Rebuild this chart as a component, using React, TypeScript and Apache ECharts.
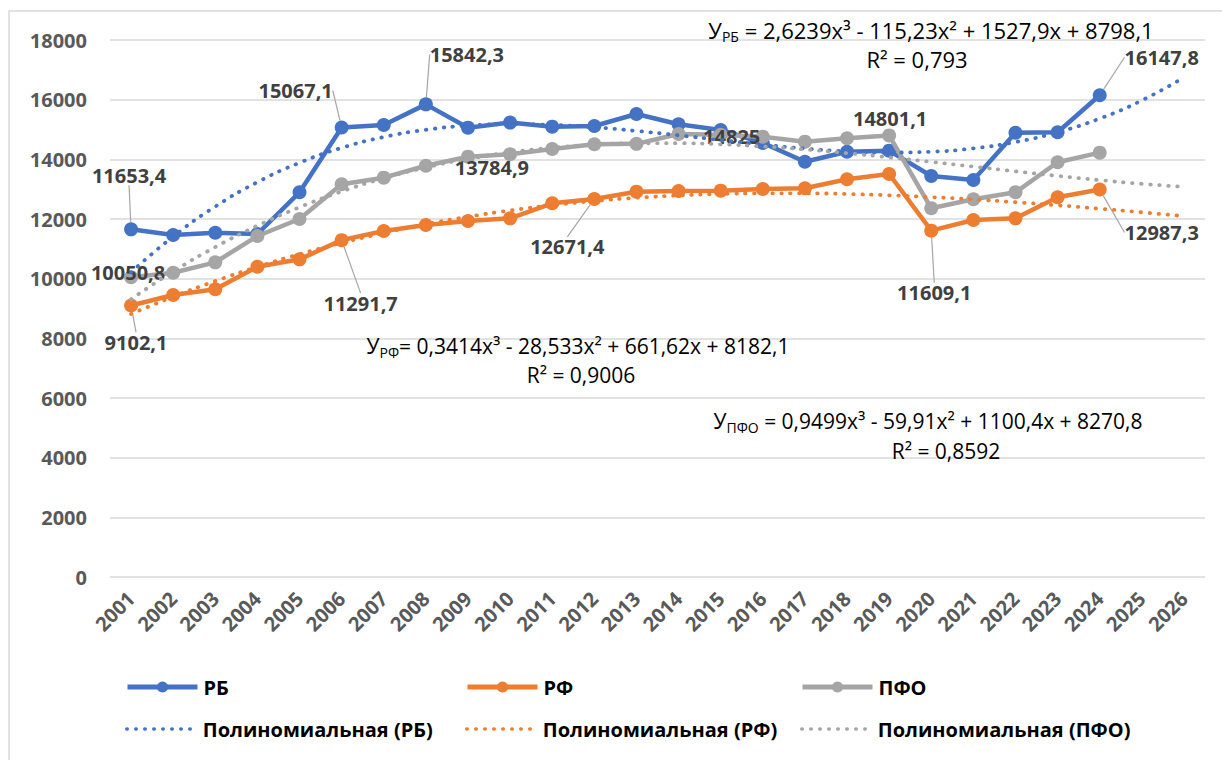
import React, { useEffect, useRef } from 'react';
import * as echarts from 'echarts';

const years = ['2001','2002','2003','2004','2005','2006','2007','2008','2009','2010','2011','2012','2013','2014','2015','2016','2017','2018','2019','2020','2021','2022','2023','2024','2025','2026'];

const rbValues = [11653.4, 11464, 11541, 11497, 12895, 15067.1, 15150, 15842.3, 15061, 15232, 15095, 15117, 15520, 15174, 14983, 14550, 13921, 14256, 14290, 13441, 13307, 14893, 14906, 16147.8];
const rfValues = [9102.1, 9453, 9644, 10401, 10648, 11291.7, 11598, 11799, 11933, 12023, 12526, 12671.4, 12916, 12938, 12950, 13006, 13030, 13331, 13508, 11609.1, 11967, 12023, 12727, 12987.3];
const pfoValues = [10050.8, 10200, 10548, 11430, 11999, 13163, 13385, 13784.9, 14089, 14169, 14346, 14504, 14520, 14849, 14825, 14760, 14592, 14705, 14801.1, 12359, 12660, 12895, 13901, 14223];

const rbTrend = [10213, 11414, 12416, 13234, 13885, 14384, 14747, 14990, 15128, 15178, 15155, 15074, 14952, 14804, 14646, 14493, 14362, 14268, 14228, 14255, 14368, 14580, 14908, 15368, 15975, 16746];
const rfTrend = [8816, 9394, 9919, 10394, 10820, 11198, 11532, 11824, 12074, 12286, 12462, 12603, 12711, 12789, 12839, 12862, 12861, 12838, 12794, 12733, 12655, 12563, 12459, 12346, 12224, 12096];
const pfoTrend = [9312, 10240, 11059, 11775, 12394, 12922, 13364, 13726, 14014, 14234, 14390, 14490, 14538, 14541, 14503, 14431, 14331, 14207, 14066, 13914, 13756, 13598, 13445, 13304, 13179, 13078];

const yTicks = { min: 0, max: 18000, interval: 2000 };

// label placement (offset from point, leader line on/off)
const rbLabels: Record<number, [number, number, boolean]> = { 0: [-2, -54, true], 5: [-46, -37, true], 7: [41, -50, true], 23: [62, -38, true] };
const rfLabels: Record<number, [number, number, boolean]> = { 0: [5, 37, true], 5: [19, 63, true], 11: [-27, 48, true], 19: [3, 62, true], 23: [62, 43, true] };
const pfoLabels: Record<number, [number, number, boolean]> = { 0: [-3, -5, false], 7: [66, 2, false], 14: [11, 2, false], 18: [1, -17, false] };

const FONT = "'Open Sans', 'Noto Sans', sans-serif";
const EQ_NARROW = "'Liberation Sans Narrow', 'Open Sans', sans-serif";
const BLUE = '#4472C4';
const ORANGE = '#ED7D31';
const GRAY = '#A5A5A5';

function mainSeries(name: string, values: number[], color: string, spots: Record<number, [number, number, boolean]>, z: number) {
  return {
    type: 'line',
    name,
    z,
    data: values.map((v, i) => (spots[i] ? { value: v, label: { show: true }, labelLine: { show: spots[i][2] } } : v)),
    symbol: 'circle',
    symbolSize: 14,
    itemStyle: { color },
    lineStyle: { color, width: 4.5 },
    label: {
      show: false,
      position: 'inside',
      formatter: (p: any) => String(p.value).replace('.', ','),
      fontSize: 20,
      fontWeight: 'bold',
      color: '#404040',
      fontFamily: FONT,
    },
    labelLine: { show: false, lineStyle: { color: '#A6A6A6', width: 1.2 } },
    labelLayout: (p: any) => {
      const s = spots[p.dataIndex];
      return s ? { dx: s[0], dy: s[1] } : {};
    },
  };
}

function trendSeries(name: string, values: number[], color: string) {
  return {
    type: 'line',
    name,
    z: 5,
    data: values,
    smooth: true,
    symbol: 'none',
    silent: true,
    lineStyle: { color, width: 3.8, type: [0.5, 8.5], cap: 'round' },
  };
}

const legendText = { fontSize: 20, fontWeight: 'bold', color: '#000', fontFamily: FONT, padding: [0, 0, 0, 1] };

function legendMain(name: string, left: number, top: number) {
  return { data: [name], left, top, padding: 0, itemWidth: 70, itemHeight: 14, textStyle: legendText, selectedMode: false, lineStyle: { width: 5 } };
}
function legendTrend(name: string, left: number, top: number) {
  return { data: [name], left, top, padding: 0, itemWidth: 70, itemHeight: 14, textStyle: legendText, selectedMode: false, itemStyle: { opacity: 0 }, lineStyle: { width: 3.5 } };
}

export default function App() {
  const ref = useRef<HTMLDivElement>(null);
  useEffect(() => {
    if (!ref.current) return;
    const chart = echarts.init(ref.current, undefined, { renderer: 'svg' });
    const eqMain = { fontSize: 22, fontFamily: FONT, color: '#1a1a1a', lineHeight: 26 };
    const eqSub = { fontSize: 14, fontFamily: FONT, color: '#1a1a1a', lineHeight: 8, verticalAlign: 'bottom' };
    const eqMainN = { fontSize: 21, fontFamily: EQ_NARROW, color: '#1a1a1a', lineHeight: 26 };
    const eqSubN = { fontSize: 14, fontFamily: EQ_NARROW, color: '#1a1a1a', lineHeight: 8, verticalAlign: 'bottom' };
    chart.setOption({
      animation: false,
      backgroundColor: '#fff',
      grid: { left: 110, right: 17, top: 40, bottom: 183, containLabel: false },
      xAxis: {
        type: 'category',
        data: years,
        boundaryGap: true,
        axisLine: { show: false },
        axisTick: { show: false },
        axisLabel: { rotate: 45, interval: 0, fontSize: 20, fontWeight: 'bold', color: '#595959', fontFamily: FONT, margin: 18 },
      },
      yAxis: {
        type: 'value',
        min: yTicks.min,
        max: yTicks.max,
        interval: yTicks.interval,
        axisLine: { show: false },
        axisTick: { show: false },
        splitLine: { lineStyle: { color: '#D9D9D9', width: 1.5 } },
        axisLabel: { fontSize: 20, fontWeight: 'bold', color: '#595959', fontFamily: FONT, margin: 23, formatter: (v: number) => String(v) },
      },
      legend: [
        legendMain('РБ', 125, 677),
        legendMain('РФ', 465, 677),
        legendMain('ПФО', 800, 677),
        legendTrend('Полиномиальная (РБ)', 125, 719),
        legendTrend('Полиномиальная (РФ)', 465, 719),
        legendTrend('Полиномиальная (ПФО)', 800, 719),
      ],
      series: [
        mainSeries('РБ', rbValues, BLUE, rbLabels, 2),
        mainSeries('РФ', rfValues, ORANGE, rfLabels, 3),
        mainSeries('ПФО', pfoValues, GRAY, pfoLabels, 4),
        trendSeries('Полиномиальная (РБ)', rbTrend, BLUE),
        trendSeries('Полиномиальная (РФ)', rfTrend, ORANGE),
        trendSeries('Полиномиальная (ПФО)', pfoTrend, GRAY),
      ],
      graphic: [
        { type: 'rect', shape: { x: 9, y: 11, width: 1250, height: 800 }, style: { fill: 'none', stroke: '#D9D9D9', lineWidth: 1.5 }, silent: true, z: -1 },
        {
          type: 'text', x: 931, y: 30, silent: true, z: 10,
          style: { text: 'У{s|РБ} = 2,6239x³ - 115,23x² + 1527,9x + 8798,1', align: 'center', verticalAlign: 'middle', rich: { s: eqSub }, ...eqMain },
        },
        { type: 'text', x: 917, y: 59, silent: true, z: 10, style: { text: 'R² = 0,793', align: 'center', verticalAlign: 'middle', ...eqMain } },
        {
          type: 'text', x: 578, y: 346, silent: true, z: 10,
          style: { text: 'У{s|РФ}= 0,3414x³ - 28,533x² + 661,62x + 8182,1', align: 'center', verticalAlign: 'middle', rich: { s: eqSubN }, ...eqMainN },
        },
        { type: 'text', x: 581, y: 375, silent: true, z: 10, style: { text: 'R² = 0,9006', align: 'center', verticalAlign: 'middle', ...eqMainN } },
        {
          type: 'text', x: 928, y: 421, silent: true, z: 10,
          style: { text: 'У{s|ПФО} = 0,9499x³ - 59,91x² + 1100,4x + 8270,8', align: 'center', verticalAlign: 'middle', rich: { s: eqSubN }, ...eqMainN },
        },
        { type: 'text', x: 946, y: 451, silent: true, z: 10, style: { text: 'R² = 0,8592', align: 'center', verticalAlign: 'middle', ...eqMainN } },
      ],
    });
    return () => chart.dispose();
  }, []);
  return <div ref={ref} style={{ width: 1222, height: 760, position: 'absolute', left: 0, top: 0 }} />;
}
